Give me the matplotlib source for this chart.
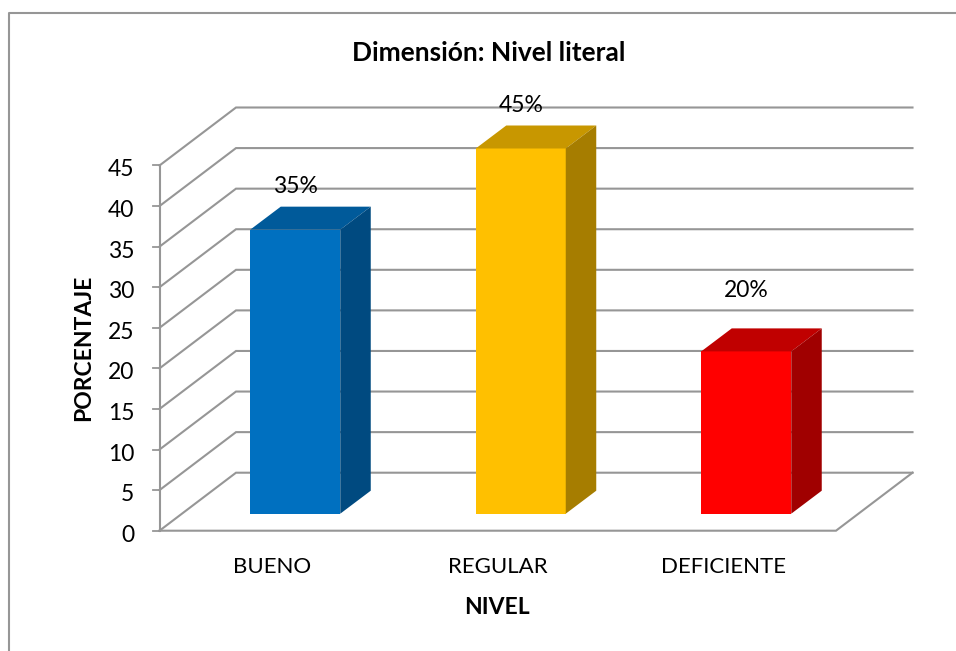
import matplotlib
matplotlib.use("Agg")
import matplotlib.pyplot as plt
from matplotlib.patches import Polygon

plt.rcParams['font.family'] = ['Lato', 'DejaVu Sans']

categories = ["BUENO", "REGULAR", "DEFICIENTE"]
values = [35, 45, 20]
labels = ["35%", "45%", "20%"]
y_ticks = [0, 5, 10, 15, 20, 25, 30, 35, 40, 45]
front_colors = ["#0070C0", "#FFC000", "#FF0000"]
top_colors = ["#005A9A", "#C89700", "#C00000"]
side_colors = ["#004A80", "#A67D00", "#A00000"]
label_gaps = [43.5, 43, 61]  # pixels above the bar front, the 20% one sits higher

GRAY = "#969696"
W, H = 956, 651

fig = plt.figure(figsize=(W / 100, H / 100), dpi=100)

# front plane of the 3d box, in pixels of the figure
x0, x1 = 159.5, 836
y0, y45 = 530.7, 165.5
ax = fig.add_axes([x0 / W, 1 - y0 / H, (x1 - x0) / W, (y0 - y45) / H])
ax.set_xlim(0, 3)
ax.set_ylim(0, 45)
ax.axis("off")

px = 3 / (x1 - x0)
py = 45 / (y0 - y45)


def dx(p):
    return p * px


def dy(p):
    return p * py


# back wall is shifted from the front plane
back_x = dx(76.5)
back_y = dy(58)

for v in y_ticks:
    ax.plot([0, back_x, 3 + back_x], [v, v + back_y, v + back_y], color=GRAY, lw=1.5,
            clip_on=False, zorder=1, solid_joinstyle="miter")
    ax.plot([-dx(7), 0], [v, v], color=GRAY, lw=1.3, clip_on=False, zorder=1)
    ax.text(-dx(25), v - dy(4.5), str(v), ha="right", va="center", fontsize=16.5, color="black")

ax.plot([0, 0], [0, 45], color=GRAY, lw=1.5, clip_on=False, zorder=1)
ax.plot([0, 3, 3 + back_x], [0, 0, back_y], color=GRAY, lw=1.5, clip_on=False, zorder=1,
        solid_joinstyle="miter")

# bars
bar_w = dx(90)
bar_y = dy(17)
bar_x = dx(23)
depth_x = dx(30.5)
depth_y = dy(23)

for i, v in enumerate(values):
    left = i + 0.5 + bar_x - bar_w / 2
    right = left + bar_w
    base = bar_y
    top = bar_y + v
    ax.add_patch(Polygon([(left, base), (right, base), (right, top), (left, top)],
                         fc=front_colors[i], ec="none", zorder=3, clip_on=False))
    ax.add_patch(Polygon([(left, top), (right, top), (right + depth_x, top + depth_y),
                          (left + depth_x, top + depth_y)],
                         fc=top_colors[i], ec="none", zorder=3, clip_on=False))
    ax.add_patch(Polygon([(right, base), (right + depth_x, base + depth_y),
                          (right + depth_x, top + depth_y), (right, top)],
                         fc=side_colors[i], ec="none", zorder=3, clip_on=False))
    ax.text(i + 0.5 + bar_x, top + dy(label_gaps[i]), labels[i], ha="center", va="center",
            fontsize=16.5, color="black", zorder=4)
    ax.text(i + 0.5, -dy(36), categories[i], ha="center", va="center", fontsize=16,
            color="black")

# chart frame
fig.add_artist(plt.Line2D([8.5 / W, 8.5 / W, 1], [0, 1 - 13 / H, 1 - 13 / H], color=GRAY, lw=1.5))

fig.text(489 / W, 1 - 53 / H, "Dimensión: Nivel literal", ha="center", va="center", fontsize=19,
         fontweight="bold")
fig.text(497 / W, 1 - 607 / H, "NIVEL", ha="center", va="center", fontsize=16.5, fontweight="bold")
fig.text(84 / W, 1 - 348 / H, "PORCENTAJE", ha="center", va="center", rotation=90, fontsize=16.5,
         fontweight="bold")

fig.savefig("out.png", dpi=100, facecolor="white")
